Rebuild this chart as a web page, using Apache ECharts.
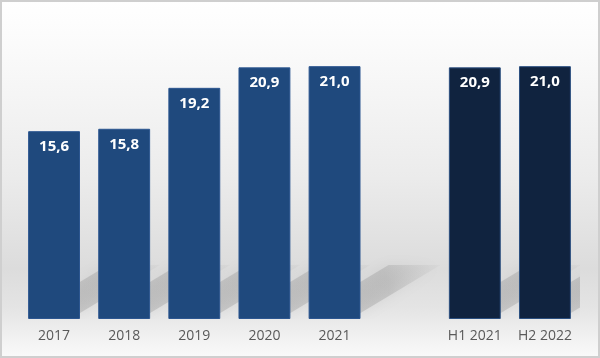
<!DOCTYPE html>
<html><head><meta charset="utf-8">
<script src="https://cdn.jsdelivr.net/npm/echarts@6/dist/echarts.min.js"></script>
<style>html,body{margin:0;padding:0;background:#fff}#c{width:600px;height:358px}</style>
</head><body><div id="c"></div>
<script>
const categories = ['2017','2018','2019','2020','2021','','H1 2021','H2 2022'];
const annualValues = [15.6, 15.8, 19.2, 20.9, 21.0, null, null, null];
const halfYearValues = [null, null, null, null, null, null, 20.9, 21.0];

const chart = echarts.init(document.getElementById('c'), null, {renderer:'canvas'});
const fmt = p => p.value == null ? '' : p.value.toFixed(1).replace('.', ',');
const labelCfg = {show:true, position:'insideTop', distance:8, color:'#fff', fontWeight:'bold', fontSize:15, fontFamily:'Open Sans', formatter: fmt};
const shadowData = categories.map((c, i) => {
  const v = annualValues[i] != null ? annualValues[i] : halfYearValues[i];
  return v == null ? null : [i, v];
}).filter(d => d);
chart.setOption({
  animation:false,
  graphic:[{type:'rect', shape:{x:1,y:1,width:598,height:356}, z:-10,
    style:{stroke:'#cfcfcf', lineWidth:2,
      fill:{type:'linear',x:0,y:0,x2:0,y2:1,colorStops:[
        {offset:0,color:'#ffffff'},{offset:0.12,color:'#fbfbfb'},{offset:0.5,color:'#ebebeb'},
        {offset:0.75,color:'#dcdcdc'},{offset:0.86,color:'#e4e4e4'},{offset:1,color:'#fafafa'}]}}}],
  grid:{left:19, right:20, top:18, bottom:39},
  xAxis:{type:'category', data:categories, axisLine:{show:false}, axisTick:{show:false},
    axisLabel:{interval:0, color:'#595959', fontSize:14, fontFamily:'Open Sans', margin:10}},
  yAxis:{type:'value', min:0, max:25, show:false, splitLine:{show:false}},
  series:[
    {type:'custom', data:shadowData, z:1, clip:true, silent:true,
      renderItem:(params, api) => {
        const base = api.coord([api.value(0), 0]);
        const w = api.size([1, 0])[0] * 0.74;
        const x0 = base[0] - w/2, x1 = base[0] + w/2, yb = base[1];
        const dx = 80, h = 54;
        return {type:'polygon', shape:{points:[[x0, yb-6],[x1, yb-6],[x1+dx, yb-h],[x0+dx, yb-h]]},
          style:{fill:{type:'linear',x:0,y:1,x2:1,y2:0,colorStops:[
              {offset:0,color:'rgba(90,90,90,0.22)'},{offset:0.6,color:'rgba(100,100,100,0.2)'},{offset:1,color:'rgba(120,120,120,0.04)'}]},
            shadowBlur:14, shadowColor:'rgba(90,90,90,0.45)'}};
      }},
    {type:'bar', data:annualValues, barGap:'-100%', barCategoryGap:'26%', z:3,
      itemStyle:{color:'#1f497d', borderColor:'#2c5690', borderWidth:1}, label:labelCfg},
    {type:'bar', data:halfYearValues, barCategoryGap:'26%', z:3,
      itemStyle:{color:'#10233f', borderColor:'#2b4f80', borderWidth:1}, label:labelCfg}
  ]
});
</script></body></html>
